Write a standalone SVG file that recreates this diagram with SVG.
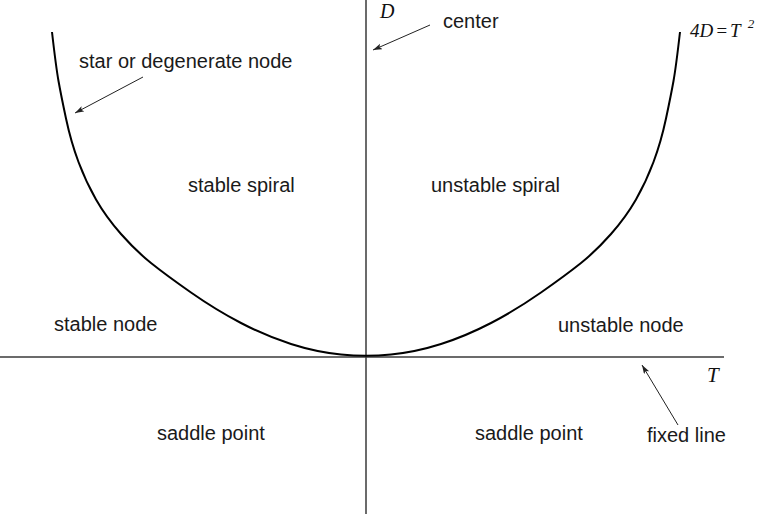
<svg xmlns="http://www.w3.org/2000/svg" width="765" height="514" viewBox="0 0 765 514">
  <style>
    .lbl { font-family: "Liberation Sans", Arial, sans-serif; font-size: 20px; fill: #1a1a1a; }
    .math { font-family: "Liberation Serif", "Times New Roman", serif; font-style: italic; fill: #111; }
    .axis { stroke: #3a3a3a; stroke-width: 1.5; fill: none; }
    .curve { stroke: #000; stroke-width: 2; fill: none; stroke-linejoin: round; }
    .arrow { stroke: #222; stroke-width: 1; fill: none; marker-end: url(#ah); }
  </style>
  <defs>
    <marker id="ah" markerUnits="userSpaceOnUse" markerWidth="12" markerHeight="8" refX="9" refY="3" orient="auto">
      <path d="M0,0 L9,3 L0,6 L2,3 z" fill="#222"/>
    </marker>
  </defs>
  <rect width="765" height="514" fill="#fff"/>

  <g id="axes">
    <line class="axis" x1="366" y1="0" x2="366" y2="514"/>
    <line class="axis" x1="0" y1="357" x2="724" y2="357"/>
    <text class="math" x="380" y="18" font-size="20">D</text>
    <text class="math" x="707" y="382" font-size="21">T</text>
  </g>

  <g id="parabola">
    <path class="curve" d="M52,32 Q56,67 58.5,81 Q61,95 66,118.5 Q71,142 78.5,162 Q86,182 96,199.5 Q106,217 121,234 Q136,251 151,263 Q166,275 191,292.5 Q216,310 241,323 Q266,336 291,344 Q316,352 341,354.5 Q366,357 391,354.5 Q416,352 441,344 Q466,336 491,323 Q516,310 541,292.5 Q566,275 581,263 Q596,251 611,234 Q626,217 636,199.5 Q646,182 653.5,162 Q661,142 666,118.5 Q671,95 673.5,81 Q676,67 680,32"/>
    <text class="math" x="690" y="37" font-size="19">4D<tspan dx="2">=</tspan><tspan dx="2">T</tspan><tspan dx="7" dy="-9" font-size="13">2</tspan></text>
  </g>

  <g id="regions">
    <text class="lbl" x="188" y="192">stable spiral</text>
    <text class="lbl" x="431" y="192">unstable spiral</text>
    <text class="lbl" x="54" y="331">stable node</text>
    <text class="lbl" x="558" y="332">unstable node</text>
    <text class="lbl" x="157" y="440">saddle point</text>
    <text class="lbl" x="475" y="440">saddle point</text>
  </g>

  <g id="annotations">
    <text class="lbl" x="79" y="68">star or degenerate node</text>
    <text class="lbl" x="443" y="28">center</text>
    <text class="lbl" x="647" y="442">fixed line</text>
  </g>

  <g id="connectors">
    <line class="arrow" x1="143" y1="77" x2="75" y2="113"/>
    <line class="arrow" x1="430" y1="25" x2="373" y2="50"/>
    <line class="arrow" x1="678" y1="425" x2="642" y2="365"/>
  </g>
</svg>
